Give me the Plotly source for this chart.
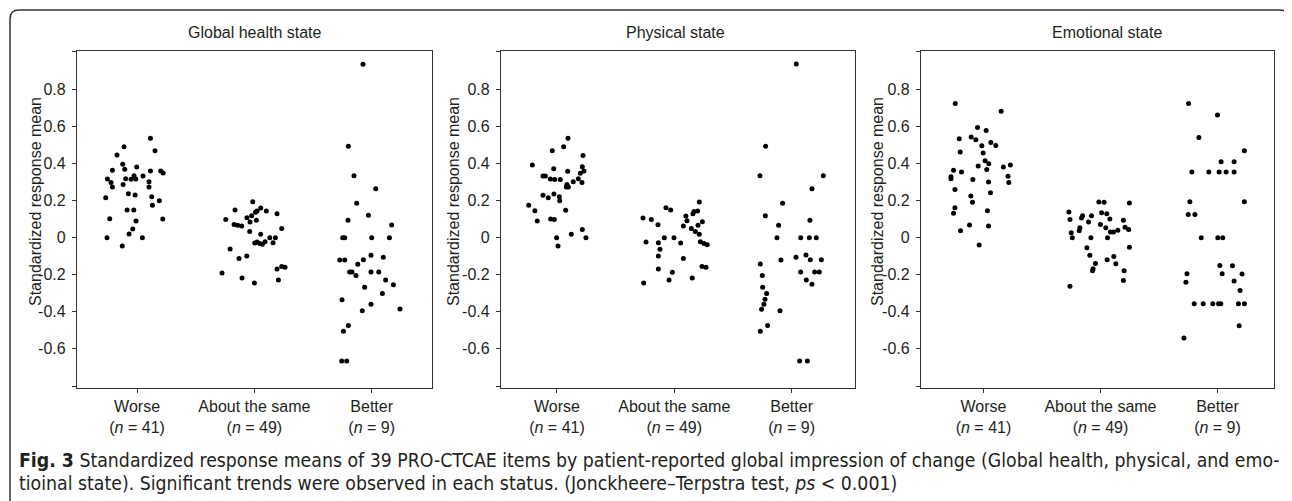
import plotly.graph_objects as go

# ---------------- data ----------------
categories = ["Worse", "About the same", "Better"]
n_labels = ["41", "49", "9"]
panel_titles = ["Global health state", "Physical state", "Emotional state"]
y_tickvals = [-0.6, -0.4, -0.2, 0, 0.2, 0.4, 0.6, 0.8]
y_ticktext = ["-0.6", "-0.4", "-0.2", "0", "0.2", "0.4", "0.6", "0.8"]

# Global health state
gh_worse = [0.537,0.492,0.470,0.447,0.397,0.382,0.364,0.370,0.361,0.361,0.350,0.317,0.319,0.316,0.335,0.317,0.334,0.299,0.303,0.287,0.274,0.274,0.238,0.231,0.216,0.222,0.200,0.175,0.150,0.150,0.103,0.090,0.101,0.047,0.020,0.000,0.000,-0.045]
gh_worse_dx = [0.114,-0.111,0.153,-0.171,-0.122,-0.003,-0.210,-0.105,0.114,0.202,0.222,-0.253,-0.097,-0.051,-0.026,-0.011,0.051,-0.222,0.102,-0.119,-0.210,0.102,-0.074,-0.017,-0.267,0.125,0.190,0.131,-0.085,-0.028,-0.233,-0.009,0.219,-0.037,-0.068,-0.256,0.045,-0.126]
gh_same = [0.195,0.150,0.160,0.144,0.137,0.144,0.130,0.099,0.108,0.119,0.085,0.094,0.072,0.067,0.063,0.050,0.034,0.018,0.000,0.000,-0.029,-0.023,-0.032,-0.036,-0.022,-0.027,-0.061,-0.099,-0.112,-0.191,-0.169,-0.155,-0.160,-0.218,-0.245,-0.229]
gh_same_dx = [-0.014,-0.165,0.054,0.023,0.009,0.102,0.193,-0.244,-0.063,-0.023,-0.037,0.017,-0.173,-0.142,-0.108,0.233,-0.040,0.054,0.131,0.179,0.003,0.023,0.045,0.068,0.091,0.159,-0.207,-0.065,-0.131,-0.276,0.193,0.233,0.261,-0.105,0.000,0.205]
gh_better = [0.937,0.495,0.335,0.265,0.186,0.095,0.121,0.068,0.000,0.000,0.000,0.000,-0.121,-0.121,-0.144,-0.119,-0.095,-0.105,-0.186,-0.186,-0.204,-0.186,-0.186,-0.229,-0.254,-0.268,-0.301,-0.335,-0.360,-0.395,-0.386,-0.474,-0.506,-0.667,-0.667]
gh_better_dx = [-0.074,-0.199,-0.151,0.034,-0.128,-0.202,-0.028,0.170,-0.247,-0.230,0.000,0.151,-0.273,-0.230,-0.119,-0.071,-0.006,0.099,-0.188,-0.168,-0.134,-0.006,0.060,0.119,0.185,-0.060,0.091,-0.253,-0.006,-0.080,0.241,-0.199,-0.241,-0.256,-0.213]

# Physical state
ph_worse = [0.537,0.470,0.492,0.445,0.393,0.373,0.359,0.384,0.360,0.348,0.333,0.333,0.317,0.315,0.315,0.319,0.303,0.299,0.288,0.274,0.274,0.229,0.216,0.236,0.222,0.200,0.175,0.146,0.148,0.090,0.101,0.099,0.045,0.018,0.000,0.000,-0.045]
ph_worse_dx = [0.094,-0.040,0.057,0.222,-0.210,-0.028,0.091,0.216,0.230,0.199,-0.119,-0.099,-0.057,-0.020,0.028,0.182,0.139,0.213,0.085,0.097,0.080,-0.119,-0.074,-0.026,0.020,0.023,-0.241,-0.188,0.074,-0.168,-0.054,-0.023,0.216,0.122,0.247,-0.003,0.009]
ph_same = [0.193,0.162,0.150,0.141,0.144,0.130,0.117,0.106,0.099,0.092,0.086,0.070,0.063,0.067,0.050,0.034,0.018,0.000,0.000,-0.023,-0.027,-0.029,-0.022,-0.032,-0.038,-0.063,-0.099,-0.112,-0.155,-0.160,-0.169,-0.187,-0.229,-0.218,-0.245]
ph_same_dx = [0.213,-0.071,-0.031,0.168,0.199,0.159,0.099,-0.267,-0.196,0.108,0.239,-0.139,0.077,0.202,0.145,0.179,0.213,-0.085,-0.003,-0.241,-0.136,0.054,0.222,0.253,0.281,-0.122,-0.136,0.077,0.236,0.270,-0.136,-0.017,-0.045,0.153,-0.261]
ph_better = [0.939,0.495,0.335,0.335,0.265,0.186,0.119,0.095,0.067,0.000,0.000,0.000,0.000,-0.105,-0.094,-0.119,-0.119,-0.121,-0.142,-0.186,-0.186,-0.186,-0.204,-0.229,-0.252,-0.268,-0.301,-0.333,-0.360,-0.387,-0.395,-0.474,-0.506,-0.667,-0.667]
ph_better_dx = [0.040,-0.222,-0.270,0.270,0.173,-0.077,-0.224,0.156,-0.111,-0.125,0.077,0.151,0.210,0.037,0.122,0.159,0.253,-0.091,-0.267,0.077,0.196,0.236,-0.250,0.125,0.173,-0.247,-0.213,-0.227,-0.236,-0.256,-0.099,-0.205,-0.267,0.068,0.134]

# Emotional state
em_worse = [0.726,0.683,0.596,0.580,0.535,0.544,0.530,0.497,0.514,0.499,0.463,0.458,0.416,0.400,0.387,0.368,0.382,0.393,0.364,0.355,0.330,0.319,0.314,0.301,0.332,0.299,0.261,0.243,0.225,0.191,0.162,0.132,0.146,0.068,0.063,0.038,-0.040]
em_worse_dx = [-0.241,0.151,-0.051,0.023,-0.207,-0.105,-0.065,-0.014,0.063,0.105,-0.199,-0.003,0.014,0.045,-0.045,0.028,0.170,0.230,-0.256,-0.188,-0.278,-0.278,-0.091,0.043,0.210,0.216,-0.244,0.060,-0.108,-0.094,-0.244,-0.256,0.034,-0.119,0.043,-0.196,-0.037]
em_same = [0.193,0.191,0.187,0.139,0.135,0.130,0.119,0.106,0.119,0.099,0.085,0.101,0.095,0.072,0.054,0.054,0.038,0.027,0.031,0.031,0.040,0.056,0.045,0.000,0.000,0.000,-0.054,-0.052,-0.095,-0.119,-0.101,-0.139,-0.141,-0.168,-0.178,-0.178,-0.231,-0.263]
em_same_dx = [-0.014,0.031,0.247,-0.270,0.009,0.054,-0.153,-0.162,-0.077,-0.261,-0.102,0.080,0.196,0.000,0.045,-0.176,-0.182,-0.250,0.085,0.111,0.148,0.210,0.241,-0.241,-0.082,0.060,-0.116,0.247,-0.091,0.057,0.114,-0.043,0.131,-0.063,-0.068,0.202,0.196,-0.261]
em_better = [0.726,0.663,0.542,0.470,0.411,0.411,0.355,0.355,0.355,0.355,0.355,0.195,0.195,0.126,0.126,0.000,0.000,0.000,-0.150,-0.151,-0.195,-0.195,-0.196,-0.241,-0.234,-0.285,-0.357,-0.357,-0.357,-0.357,-0.357,-0.357,-0.357,-0.476,-0.542]
em_better_dx = [-0.247,0.000,-0.159,0.230,0.031,0.142,-0.219,-0.074,0.014,0.074,0.142,-0.236,0.230,-0.250,-0.193,-0.139,0.003,0.045,0.020,0.128,-0.261,0.040,0.210,-0.270,0.142,0.193,-0.199,-0.122,-0.040,0.009,0.028,0.179,0.230,0.185,-0.287]

panels = [
    [(gh_worse, gh_worse_dx), (gh_same, gh_same_dx), (gh_better, gh_better_dx)],
    [(ph_worse, ph_worse_dx), (ph_same, ph_same_dx), (ph_better, ph_better_dx)],
    [(em_worse, em_worse_dx), (em_same, em_same_dx), (em_better, em_better_dx)],
]

# ---------------- layout geometry (screen pixels; page body has 8px margin) ----------------
OFF = 8
W, H = 1292 - OFF, 501 - OFF
FONT = "Liberation Sans, Arial, Helvetica, sans-serif"
TXT = "#231f20"
x_domains = [(77, 432), (501, 855), (921, 1274)]
x_ranges = [(-0.512, 2.514), (-0.477, 2.540), (-0.534, 2.483)]
y_top, y_bot = 51, 388
y_range = (-0.8124, 1.0092)
y_end_ticks = [-0.806, 1.004]
title_x = [255, 676, 1107]
ytitle_x = [35, 453, 877]


def px(x):
    return (x - OFF) / W


def py(y):
    return 1 - (y - OFF) / H


fig = go.Figure()
tick_labels = [f"{c}<br>(<i>n</i> = {n})" for c, n in zip(categories, n_labels)]

for p, groups in enumerate(panels):
    sfx = "" if p == 0 else str(p + 1)
    for ci, (vals, dx) in enumerate(groups):
        fig.add_trace(go.Scatter(
            x=[ci + d for d in dx], y=vals, mode="markers",
            marker=dict(size=5, color="#000000", line=dict(width=0)),
            xaxis="x" + sfx, yaxis="y" + sfx, showlegend=False,
            hoverinfo="y",
        ))
    d0, d1 = x_domains[p]
    fig.layout["xaxis" + sfx] = dict(
        domain=[px(d0), px(d1)], range=list(x_ranges[p]), anchor="y" + sfx,
        tickvals=[0, 1, 2], ticktext=tick_labels, ticks="outside", ticklen=4,
        tickwidth=1, tickcolor="#333", showline=True, linecolor="#333", linewidth=1.2,
        mirror=True, showgrid=False, zeroline=False,
        tickfont=dict(family=FONT, size=16, color=TXT), fixedrange=True,
    )
    fig.layout["yaxis" + sfx] = dict(
        domain=[py(y_bot), py(y_top)], range=list(y_range), anchor="x" + sfx,
        tickvals=y_tickvals, ticktext=y_ticktext, ticks="outside", ticklen=4,
        tickwidth=1, tickcolor="#333", showline=True, linecolor="#333", linewidth=1.2,
        mirror=True, showgrid=False, zeroline=False, ticklabelstandoff=3,
        tickfont=dict(family=FONT, size=16, color=TXT), fixedrange=True,
        minor=dict(tickvals=y_end_ticks, ticks="outside", ticklen=4, tickwidth=1,
                   tickcolor="#333", showgrid=False),
    )
    fig.add_annotation(text=panel_titles[p], xref="paper", yref="paper",
                       x=px(title_x[p]), y=py(32), xanchor="center", yanchor="middle",
                       showarrow=False, font=dict(family=FONT, size=16, color=TXT))
    fig.add_annotation(text="Standardized response mean", xref="paper", yref="paper",
                       x=px(ytitle_x[p]), y=py(202), xanchor="center", yanchor="middle",
                       textangle=-90, showarrow=False,
                       font=dict(family=FONT, size=16, color=TXT))

# caption
CAP_FONT = "Liberation Sans Narrow, DejaVu Sans Condensed, Arial Narrow, sans-serif"
cap1 = ("<b>Fig. 3</b> Standardized response means of 39 PRO-CTCAE items by patient-reported "
        "global impression of change (Global health, physical, and emo-")
cap2 = ("tioinal state). Significant trends were observed in each status. "
        "(Jonckheere–Terpstra test, <i>ps</i> &lt; 0.001)")
fig.add_annotation(text=cap1, xref="paper", yref="paper", x=px(17), y=py(460),
                   xanchor="left", yanchor="middle", showarrow=False,
                   font=dict(family=CAP_FONT, size=19.3, color=TXT))
fig.add_annotation(text=cap2, xref="paper", yref="paper", x=px(17), y=py(483),
                   xanchor="left", yanchor="middle", showarrow=False,
                   font=dict(family=CAP_FONT, size=19.3, color=TXT))

# outer rounded frame
x0, x1, yt, yb, r = 10, 1289, 10, 510, 9
path = (f"M {px(x0)},{py(yb)} L {px(x0)},{py(yt + r)} Q {px(x0)},{py(yt)} {px(x0 + r)},{py(yt)} "
        f"L {px(x1 - r)},{py(yt)} Q {px(x1)},{py(yt)} {px(x1)},{py(yt + r)} L {px(x1)},{py(yb)}")
fig.add_shape(type="path", path=path, xref="paper", yref="paper",
              line=dict(color="#333", width=1.5))

fig.update_layout(
    width=W, height=H, margin=dict(l=0, r=0, t=0, b=0),
    paper_bgcolor="white", plot_bgcolor="white",
    font=dict(family=FONT, color=TXT),
)

fig.write_html("out.html")
